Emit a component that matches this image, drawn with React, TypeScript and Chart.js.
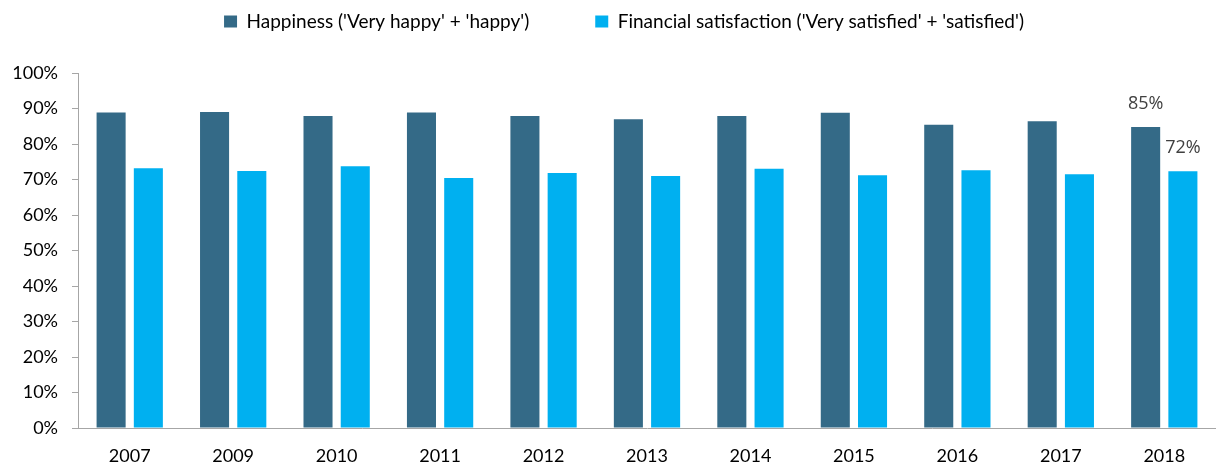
import React, { useEffect, useRef } from "react";
import { Chart, registerables } from "chart.js";

Chart.register(...registerables);

const categories = ["2007", "2009", "2010", "2011", "2012", "2013", "2014", "2015", "2016", "2017", "2018"];
const happiness = [88.9, 89.0, 87.9, 88.9, 87.9, 87.0, 87.9, 88.8, 85.4, 86.4, 84.8];
const financial = [73.2, 72.4, 73.7, 70.4, 71.8, 71.0, 73.0, 71.2, 72.6, 71.5, 72.3];
const seriesNames = ["Happiness ('Very happy' + 'happy')", "Financial satisfaction ('Very satisfied' + 'satisfied')"];
const labelledIndex = [10];

const DARK = "#346A87";
const LIGHT = "#00B0F0";
const AXIS = "#A6A6A6";
const FONT = "Lato";

const LEGEND_PAD = 66;
const TOP_SHIFT = -54;
const LEGEND_SHIFT_X = 16;

export default function App() {
  const ref = useRef<HTMLCanvasElement>(null);
  useEffect(() => {
    if (!ref.current) return;
    const legendHeight = {
      id: "legendHeight",
      beforeInit(chart: any) {
        const orig = chart.legend.fit;
        chart.legend.fit = function () {
          orig.bind(chart.legend)();
          this.height = 73 - TOP_SHIFT;
        };
      },
      afterLayout(chart: any) {
        chart.legend.left += LEGEND_SHIFT_X;
        chart.legend.right += LEGEND_SHIFT_X;
      },
    };
    const valueLabels = {
      id: "valueLabels",
      afterDatasetsDraw(chart: any) {
        const ctx = chart.ctx;
        ctx.save();
        ctx.font = "18px 'Open Sans'";
        ctx.fillStyle = "#404040";
        ctx.textAlign = "center";
        ctx.textBaseline = "middle";
        chart.data.datasets.forEach((ds: any, di: number) => {
          const meta = chart.getDatasetMeta(di);
          labelledIndex.forEach((i) => {
            const el = meta.data[i];
            ctx.fillText(Math.round(ds.data[i]) + "%", el.x, el.y - 23);
          });
        });
        ctx.restore();
      },
    };
    const chart = new Chart(ref.current, {
      type: "bar",
      data: {
        labels: categories,
        datasets: [
          { label: seriesNames[0], data: happiness, backgroundColor: DARK },
          { label: seriesNames[1], data: financial, backgroundColor: LIGHT },
        ],
      },
      options: {
        animation: false,
        responsive: false,
        maintainAspectRatio: false,
        layout: { padding: { left: 0, right: 0, top: TOP_SHIFT, bottom: 0 } },
        datasets: { bar: { categoryPercentage: 0.72, barPercentage: 0.78 } },
        plugins: {
          tooltip: { enabled: false },
          legend: {
            position: "top",
            labels: {
              boxWidth: 13,
              boxHeight: 12,
              padding: LEGEND_PAD,
              color: "#000",
              font: { family: FONT, size: 19 },
            },
          },
        },
        scales: {
          x: {
            grid: { display: false },
            border: { display: true, color: AXIS, width: 1 },
            ticks: { color: "#000", font: { family: FONT, size: 18 }, padding: 9, maxRotation: 0 },
            afterFit: (s: any) => { s.height = 39; },
          },
          y: {
            min: 0,
            max: 100,
            ticks: {
              stepSize: 10,
              color: "#000",
              font: { family: FONT, size: 18 },
              padding: 14,
              callback: (v: any) => v + "%",
            },
            grid: { display: true, drawOnChartArea: false, drawTicks: true, tickLength: 6, color: AXIS },
            border: { display: true, color: AXIS, width: 1 },
            afterFit: (s: any) => { s.width = 78; },
          },
        },
      },
      plugins: [legendHeight, valueLabels],
    });
    return () => chart.destroy();
  }, []);
  return (
    <div style={{ position: "fixed", left: 0, top: 0, width: 1216, height: 467, background: "#fff" }}>
      <canvas ref={ref} width={1216} height={467} style={{ width: 1216, height: 467 }} />
    </div>
  );
}
